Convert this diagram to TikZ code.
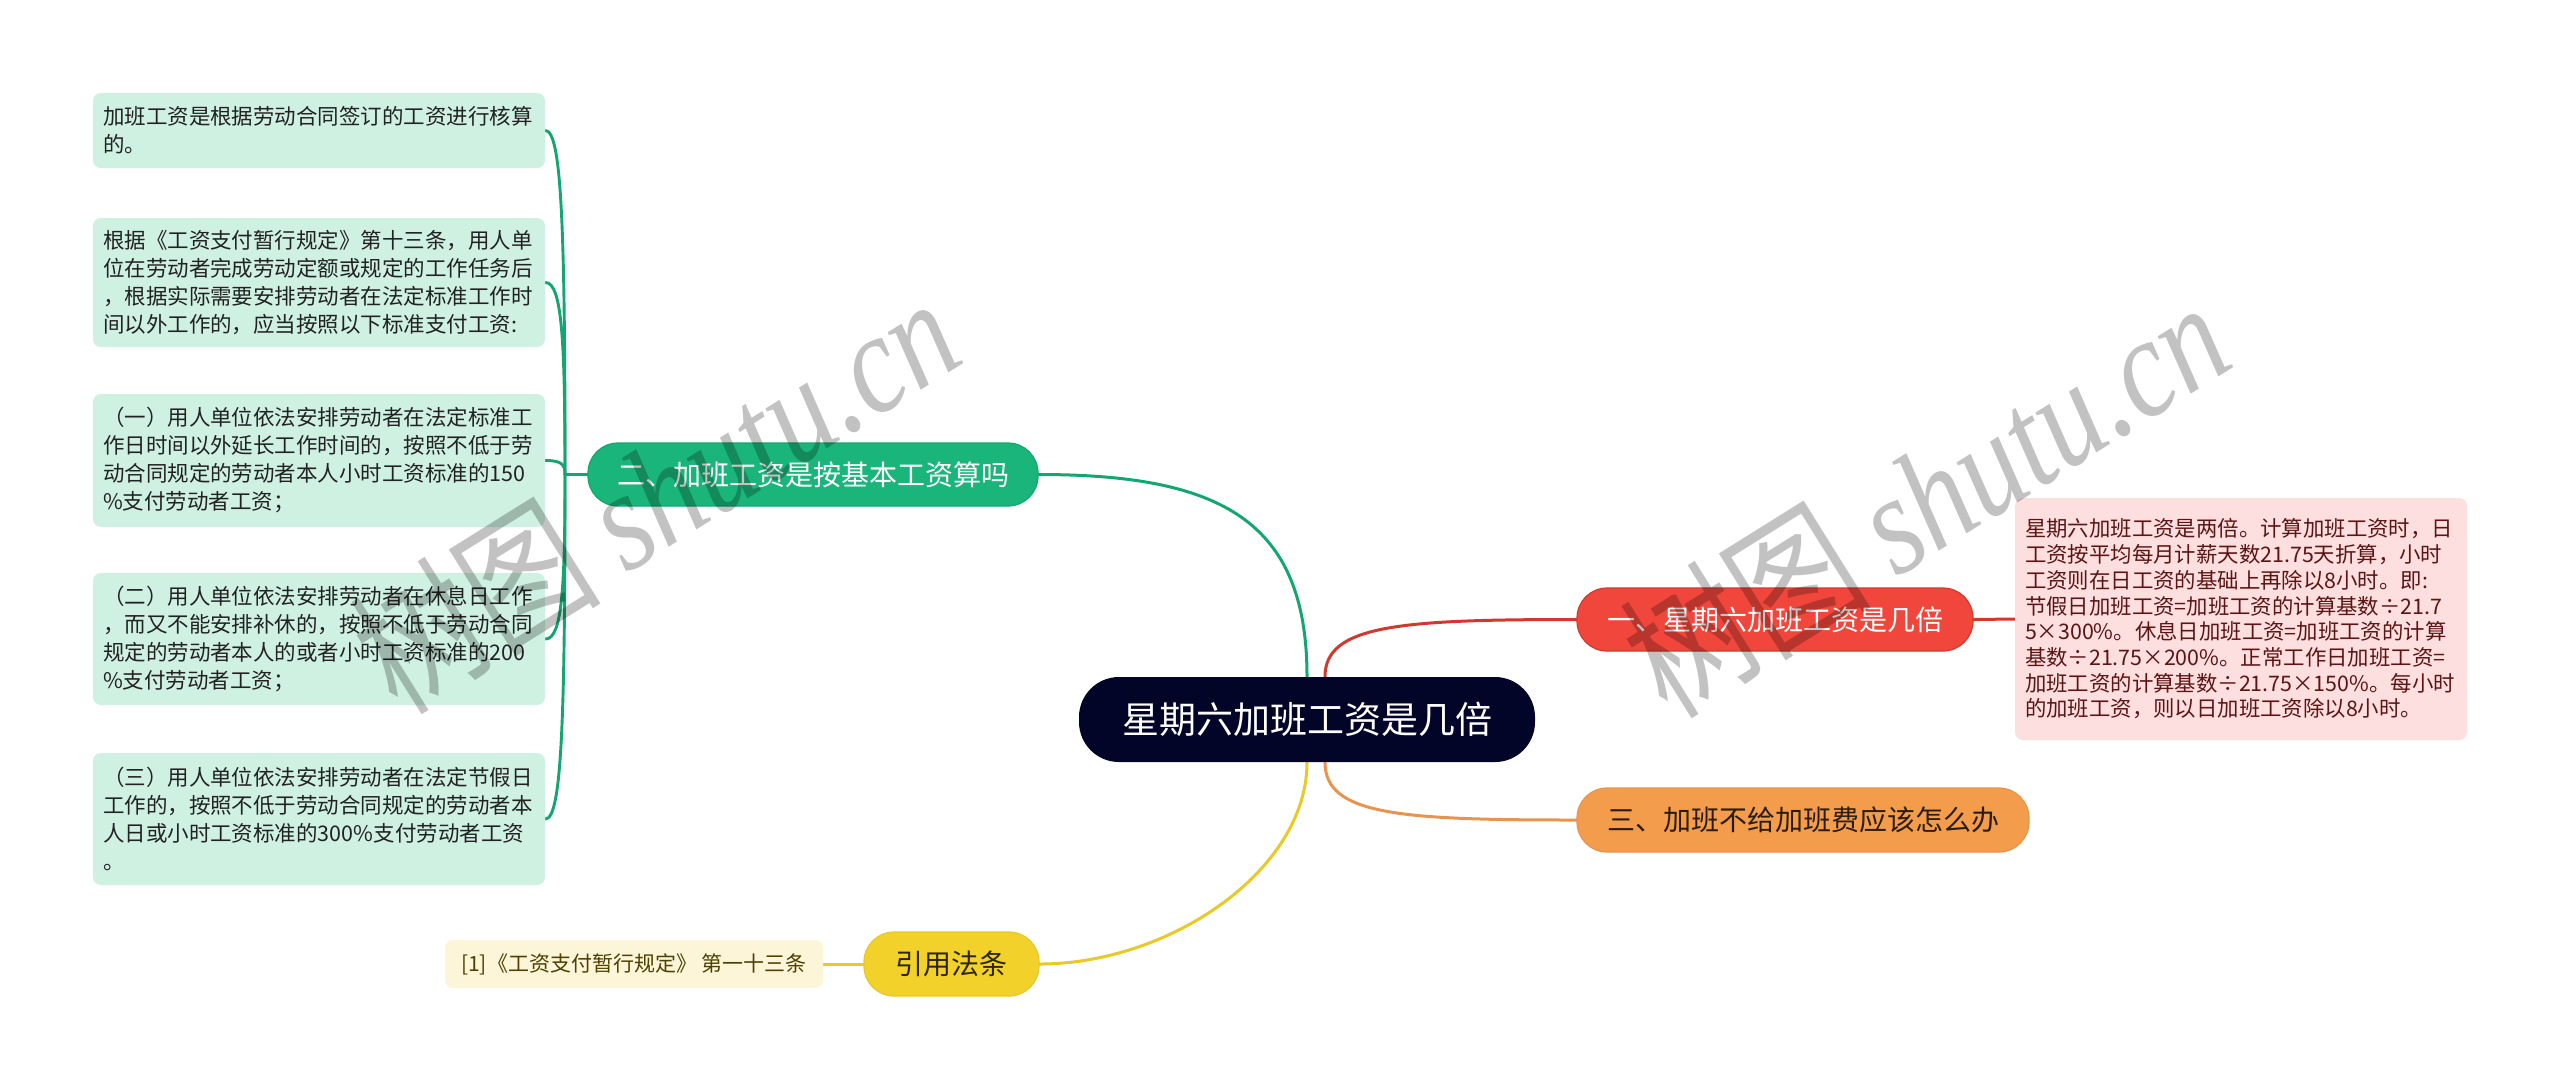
\documentclass[tikz,border=0pt]{standalone}
\usepackage{fontspec}
\setmainfont{Noto Sans CJK SC}
\newfontfamily\wmfont{Liberation Serif}
\usetikzlibrary{backgrounds,calc}

\definecolor{rootc}{RGB}{3,5,40}
\definecolor{redc}{RGB}{241,70,59}
\definecolor{redline}{RGB}{208,58,46}
\definecolor{pinkc}{RGB}{253,223,223}
\definecolor{pinktext}{RGB}{92,20,20}
\definecolor{orangec}{RGB}{243,156,76}
\definecolor{orangeline}{RGB}{232,148,78}
\definecolor{orangetext}{RGB}{43,29,14}
\definecolor{greenc}{RGB}{26,181,122}
\definecolor{greenline}{RGB}{20,166,112}
\definecolor{leafc}{RGB}{207,241,226}
\definecolor{leaftext}{RGB}{34,34,34}
\definecolor{yellowc}{RGB}{241,209,42}
\definecolor{yellowline}{RGB}{233,201,40}
\definecolor{yellowtext}{RGB}{45,38,0}
\definecolor{yleafc}{RGB}{252,245,216}
\definecolor{yleaftext}{RGB}{77,64,0}

\begin{document}
\begin{tikzpicture}[x=0.5pt,y=-0.5pt,
  rootbox/.style={fill=rootc, text=white, rounded corners=20pt, minimum width=228pt,
    minimum height=42.5pt, inner sep=0pt, font=\fontsize{18.5pt}{20pt}\selectfont},
  pill/.style={rounded corners=15pt, minimum height=31.5pt, inner sep=0pt,
    font=\fontsize{14pt}{16pt}\selectfont},
  leafbox/.style={fill=leafc, rounded corners=4pt, text width=216pt, inner xsep=5pt,
    inner ysep=0pt, align=left, text=leaftext, font=\fontsize{10.75pt}{14pt}\selectfont},
  pinkbox/.style={fill=pinkc, rounded corners=4pt, text width=216pt, inner xsep=5pt,
    inner ysep=0pt, align=left, text=pinktext, minimum height=121pt,
    font=\fontsize{10.7pt}{12.85pt}\selectfont},
  yleaf/.style={fill=yleafc, rounded corners=4pt, minimum width=189pt, minimum height=24pt,
    inner sep=0pt, text=yleaftext, font=\fontsize{10.5pt}{12pt}\selectfont},
  conn/.style={line width=1.5pt, line cap=round},
  leafconn/.style={line width=1.45pt, line cap=round, greenline},
  wm/.style={rotate=32, text=black, text opacity=0.24, inner sep=0pt,
    font=\fontsize{60pt}{62pt}\selectfont}
]
\path[use as bounding box] (0,0) rectangle (2560,1089);

% root and main branches
\node[rootbox] (root) at (1307,719.5) {星期六加班工资是几倍};
\node[pill, fill=redc, draw=redline, line width=0.6pt, text=white, minimum width=198pt] (n1) at (1775,619.5) {一、星期六加班工资是几倍};
\node[pinkbox] (p1) at (2241,619) {星期六加班工资是两倍。计算加班工资时，日\\工资按平均每月计薪天数21.75天折算，小时\\工资则在日工资的基础上再除以8小时。即:\\节假日加班工资=加班工资的计算基数÷21.7\\5×300\%。休息日加班工资=加班工资的计算\\基数÷21.75×200\%。正常工作日加班工资=\\加班工资的计算基数÷21.75×150\%。每小时\\的加班工资，则以日加班工资除以8小时。};
\node[pill, fill=orangec, draw=orangeline, line width=0.6pt, text=orangetext, minimum width=226pt, minimum height=32pt] (n3) at (1803,820) {三、加班不给加班费应该怎么办};
\node[pill, fill=greenc, draw=greenline, line width=0.6pt, text=white, minimum width=225pt] (n2) at (813,474.5) {二、加班工资是按基本工资算吗};
\node[pill, fill=yellowc, draw=yellowline, line width=0.6pt, text=yellowtext, minimum width=87.5pt, minimum height=32pt] (n4) at (951.5,964) {引用法条};
\node[yleaf] (y1) at (634,964) {[1]《工资支付暂行规定》 第一十三条};

% green leaves
\node[leafbox, minimum height=37.5pt] (L1) at (319,130.5) {加班工资是根据劳动合同签订的工资进行核算\\的。};
\node[leafbox, minimum height=64.5pt] (L2) at (319,282.5) {根据《工资支付暂行规定》第十三条，用人单\\位在劳动者完成劳动定额或规定的工作任务后\\，根据实际需要安排劳动者在法定标准工作时\\间以外工作的，应当按照以下标准支付工资:};
\node[leafbox, minimum height=66.5pt] (L3) at (319,460.5) {（一）用人单位依法安排劳动者在法定标准工\\作日时间以外延长工作时间的，按照不低于劳\\动合同规定的劳动者本人小时工资标准的150\\\%支付劳动者工资；};
\node[leafbox, minimum height=66pt] (L4) at (319,639) {（二）用人单位依法安排劳动者在休息日工作\\，而又不能安排补休的，按照不低于劳动合同\\规定的劳动者本人的或者小时工资标准的200\\\%支付劳动者工资；};
\node[leafbox, minimum height=66pt] (L5) at (319,819) {（三）用人单位依法安排劳动者在法定节假日\\工作的，按照不低于劳动合同规定的劳动者本\\人日或小时工资标准的300\%支付劳动者工资\\。};

\coordinate (J) at (565,474.5);

\begin{scope}[on background layer]
  \fill[white] (0,0) rectangle (2560,1089);
  \draw[conn, greenline] (root.north) .. controls (1307,520) and (1220,474.5) .. (n2.east);
  \draw[conn, redline] ([xshift=9pt]root.north) .. controls (1325,625) and (1400,619.5) .. (n1.west);
  \draw[conn, orangeline] ([xshift=9pt]root.south) .. controls (1325,815) and (1400,820) .. (n3.west);
  \draw[conn, yellowline] (root.south) .. controls (1307,870) and (1170,964) .. (n4.east);
  \draw[conn, redline] (n1.east) -- (p1.west);
  \draw[conn, yellowline] (n4.west) -- (y1.east);
  \draw[leafconn] (n2.west) -- (J);
  \draw[leafconn] (L1.east) .. controls (562,130.5) and (565,233.7) .. (J);
  \draw[leafconn] (L2.east) .. controls (562,282.5) and (565,340) .. (J);
  \draw[leafconn] (L3.east) .. controls (562,460.5) and (565,464.7) .. (J);
  \draw[leafconn] (L4.east) .. controls (562,639) and (565,589.6) .. (J);
  \draw[leafconn] (L5.east) .. controls (562,819) and (565,715.7) .. (J);
\end{scope}

% watermark
\node[wm] (wm1) at (655,492) {\scalebox{1}[1.2]{树图 {\wmfont\itshape shutu.cn}}};
\node[wm] (wm2) at (1925,496) {\scalebox{1}[1.2]{树图 {\wmfont\itshape shutu.cn}}};
\end{tikzpicture}
\end{document}
